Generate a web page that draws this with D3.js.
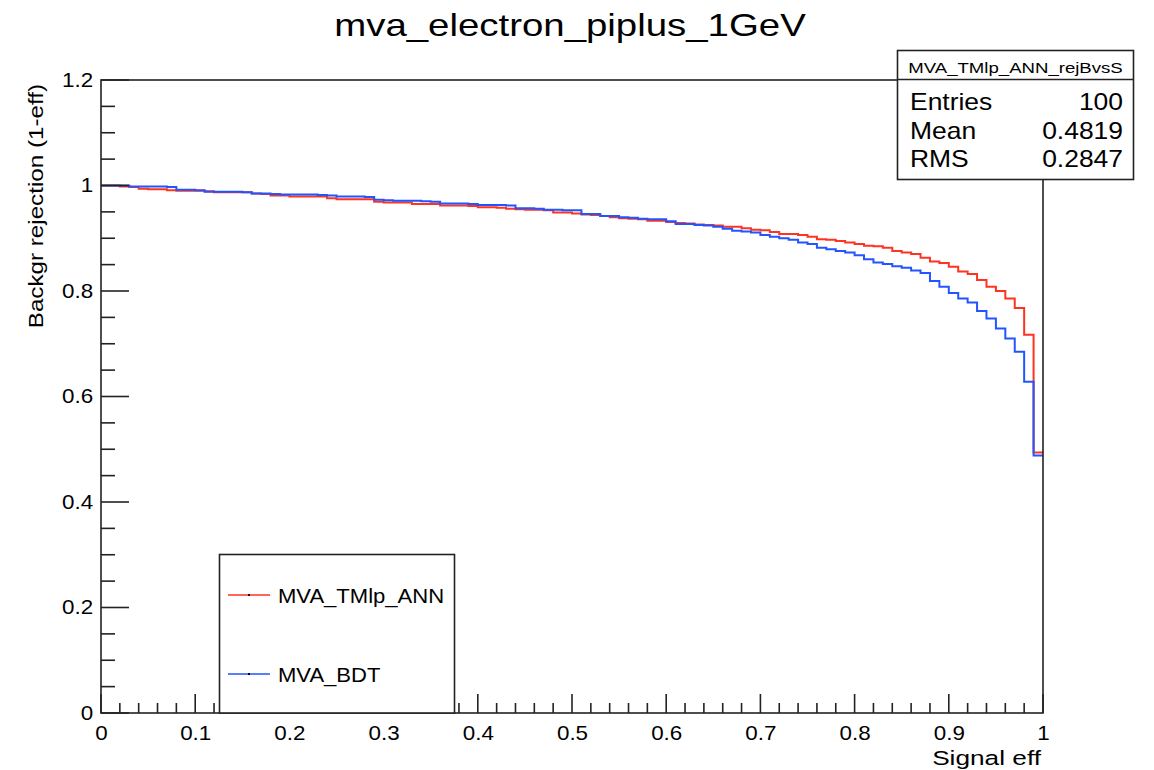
<!DOCTYPE html>
<html>
<head>
<meta charset="utf-8">
<script src="https://cdn.jsdelivr.net/npm/d3@7"></script>
<style>
  body { margin: 0; background: #fff; }
  text { font-family: "Liberation Sans", Arial, Helvetica, sans-serif; fill: #000; }
</style>
</head>
<body>
<svg id="chart" width="1154" height="770"></svg>
<script>
// Histogram binning of the signal efficiency axis
const nBins = 100;
const effRange = [0, 1];

// Background rejection (1 - eff_B) per signal-efficiency bin
const annRejection = [
  1.000, 1.000, 0.998, 0.997, 0.994, 0.993, 0.993, 0.991, 0.990, 0.990,
  0.990, 0.989, 0.987, 0.987, 0.987, 0.987, 0.985, 0.984, 0.981, 0.981,
  0.979, 0.979, 0.979, 0.979, 0.976, 0.974, 0.974, 0.974, 0.974, 0.969,
  0.968, 0.968, 0.968, 0.965, 0.965, 0.965, 0.962, 0.962, 0.962, 0.961,
  0.959, 0.959, 0.958, 0.956, 0.955, 0.954, 0.954, 0.953, 0.949, 0.949,
  0.947, 0.945, 0.944, 0.942, 0.940, 0.938, 0.937, 0.936, 0.933, 0.933,
  0.931, 0.929, 0.928, 0.926, 0.925, 0.924, 0.922, 0.922, 0.919, 0.916,
  0.915, 0.912, 0.908, 0.908, 0.906, 0.903, 0.898, 0.897, 0.895, 0.892,
  0.889, 0.886, 0.885, 0.882, 0.876, 0.873, 0.870, 0.863, 0.856, 0.853,
  0.846, 0.837, 0.832, 0.821, 0.808, 0.800, 0.786, 0.768, 0.717, 0.494
];
const bdtRejection = [
  1.000, 1.000, 1.000, 0.998, 0.998, 0.998, 0.998, 0.997, 0.992, 0.992,
  0.991, 0.988, 0.988, 0.988, 0.988, 0.987, 0.985, 0.985, 0.984, 0.983,
  0.983, 0.983, 0.983, 0.982, 0.981, 0.979, 0.979, 0.979, 0.978, 0.973,
  0.972, 0.971, 0.971, 0.971, 0.970, 0.969, 0.966, 0.966, 0.966, 0.965,
  0.963, 0.963, 0.963, 0.962, 0.957, 0.957, 0.956, 0.954, 0.954, 0.953,
  0.953, 0.946, 0.946, 0.942, 0.942, 0.940, 0.939, 0.937, 0.936, 0.936,
  0.932, 0.927, 0.927, 0.925, 0.924, 0.922, 0.918, 0.914, 0.913, 0.911,
  0.906, 0.903, 0.900, 0.897, 0.892, 0.889, 0.882, 0.879, 0.876, 0.873,
  0.868, 0.860, 0.854, 0.851, 0.847, 0.844, 0.839, 0.834, 0.819, 0.808,
  0.796, 0.786, 0.778, 0.762, 0.748, 0.729, 0.710, 0.685, 0.628, 0.488
];

const seriesNames = ["MVA_TMlp_ANN", "MVA_BDT"];
const seriesColors = ["#ff3322", "#2255ff"];

const xTickValues = [0, 0.1, 0.2, 0.3, 0.4, 0.5, 0.6, 0.7, 0.8, 0.9, 1];
const xTickLabels = ["0", "0.1", "0.2", "0.3", "0.4", "0.5", "0.6", "0.7", "0.8", "0.9", "1"];
const yTickValues = [0, 0.2, 0.4, 0.6, 0.8, 1.0, 1.2];
const yTickLabels = ["0", "0.2", "0.4", "0.6", "0.8", "1", "1.2"];

const statsTitle = "MVA_TMlp_ANN_rejBvsS";
const statsNames = ["Entries", "Mean", "RMS"];
const statsValues = ["100", "0.4819", "0.2847"];

const chartTitle = "mva_electron_piplus_1GeV";
const xTitle = "Signal eff";
const yTitle = "Backgr rejection (1-eff)";

// ---- layout ----
const frame = { left: 101, right: 1043, top: 80, bottom: 713 };
const svg = d3.select("#chart");

const x = d3.scaleLinear().domain(effRange).range([frame.left, frame.right]);
const y = d3.scaleLinear().domain([0, 1.2]).range([frame.bottom, frame.top]);

// Helper: text that is slightly widened horizontally
function wideText(parent, px, py, str, size, sx, anchor) {
  const g = parent.append("g").attr("transform", `translate(${px},${py}) scale(${sx},1)`);
  return g.append("text").attr("text-anchor", anchor || "start")
    .style("font-size", size + "px").text(str);
}

// Title
wideText(svg, 570, 36, chartTitle, 32, 1.2, "middle");

// Histogram outlines (red first, blue on top)
const stepLine = d3.line()
  .x(d => x(d[0]))
  .y(d => y(d[1]))
  .curve(d3.curveStepAfter);

function histPoints(vals) {
  const w = (effRange[1] - effRange[0]) / nBins;
  const pts = vals.map((v, i) => [effRange[0] + i * w, v]);
  pts.push([effRange[1], vals[vals.length - 1]]);
  return pts;
}

[annRejection, bdtRejection].forEach((vals, k) => {
  svg.append("path")
    .attr("d", stepLine(histPoints(vals)))
    .attr("fill", "none")
    .attr("stroke", seriesColors[k])
    .attr("stroke-width", 2);
});

// Tick marks pointing into the frame
const xMinorTicks = d3.range(0, 51).map(v => v / 50);
const yMinorTicks = d3.range(0, 25).map(v => v * 0.05);
const ticks = svg.append("g").attr("stroke", "#222").attr("stroke-width", 1.6);

ticks.selectAll("line.xt").data(xMinorTicks).join("line")
  .attr("class", "xt")
  .attr("x1", d => x(d)).attr("x2", d => x(d))
  .attr("y1", frame.bottom)
  .attr("y2", (d, i) => frame.bottom - (i % 5 === 0 ? 19 : 10));

ticks.selectAll("line.yt").data(yMinorTicks).join("line")
  .attr("class", "yt")
  .attr("y1", d => y(d)).attr("y2", d => y(d))
  .attr("x1", frame.left)
  .attr("x2", (d, i) => frame.left + (i % 4 === 0 ? 28 : 14));

// Axis labels through d3 axes (tick lines drawn above)
const xAxis = d3.axisBottom(x).tickValues(xTickValues)
  .tickFormat((d, i) => xTickLabels[i]).tickSize(0).tickPadding(13);
const yAxis = d3.axisLeft(y).tickValues(yTickValues)
  .tickFormat((d, i) => yTickLabels[i]).tickSize(0).tickPadding(7);

function styleAxis(g) {
  g.select(".domain").remove();
  g.selectAll(".tick line").remove();
  g.selectAll(".tick text")
    .style("font-size", "20px")
    .style("font-family", "'Liberation Sans', Arial, sans-serif")
    .attr("fill", "#000")
    .attr("transform", "scale(1.12,1)");
}
svg.append("g").attr("transform", `translate(0,${frame.bottom})`).call(xAxis).call(styleAxis);
svg.append("g").attr("transform", `translate(${frame.left},0)`).call(yAxis).call(styleAxis);

// Frame box
svg.append("rect")
  .attr("x", frame.left).attr("y", frame.top)
  .attr("width", frame.right - frame.left).attr("height", frame.bottom - frame.top)
  .attr("fill", "none").attr("stroke", "#222").attr("stroke-width", 1.6);

// Axis titles
wideText(svg, 1041, 765, xTitle, 20.5, 1.28, "end");
svg.append("g").attr("transform", "translate(43,84) rotate(-90)")
  .append("g").attr("transform", "scale(1.21,1)")
  .append("text").attr("text-anchor", "end").style("font-size", "20px").text(yTitle);

// Legend box
const legend = svg.append("g");
legend.append("rect")
  .attr("x", 219.5).attr("y", 554.5).attr("width", 235).attr("height", 158.5)
  .attr("fill", "#fff").attr("stroke", "#222").attr("stroke-width", 1.6);
const legendRows = [595, 674];
seriesNames.forEach((name, k) => {
  const ly = legendRows[k];
  legend.append("line")
    .attr("x1", 228).attr("x2", 270).attr("y1", ly).attr("y2", ly)
    .attr("stroke", seriesColors[k]).attr("stroke-width", 1.5);
  legend.append("rect")
    .attr("x", 248).attr("y", ly - 1).attr("width", 2).attr("height", 2).attr("fill", "#000");
  wideText(legend, 278, ly + 7.5, name, 21, 1.05, "start");
});

// Statistics box
const stats = svg.append("g");
stats.append("rect")
  .attr("x", 897.5).attr("y", 50.5).attr("width", 236).attr("height", 129)
  .attr("fill", "#fff").attr("stroke", "#222").attr("stroke-width", 1.6);
stats.append("line")
  .attr("x1", 897.5).attr("x2", 1133.5).attr("y1", 79.5).attr("y2", 79.5)
  .attr("stroke", "#222").attr("stroke-width", 1.6);
wideText(stats, 1015.5, 73, statsTitle, 15.5, 1.2, "middle");
const statRows = [110, 139, 167];
statsNames.forEach((n, i) => {
  wideText(stats, 910, statRows[i], n, 23, 1.15, "start");
  wideText(stats, 1123, statRows[i], statsValues[i], 23, 1.15, "end");
});
</script>
</body>
</html>
